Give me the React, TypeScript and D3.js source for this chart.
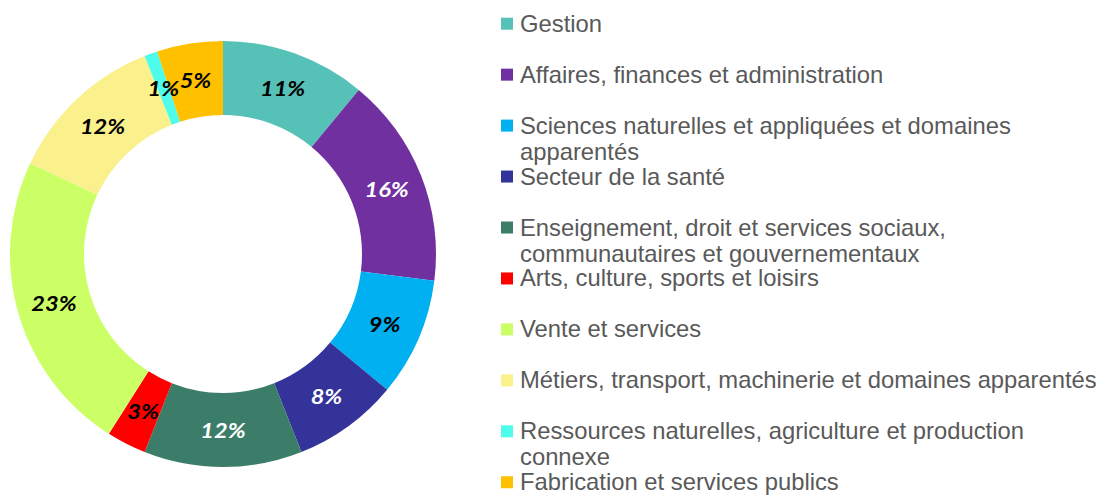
import React from "react";
import * as d3 from "d3";

const categories = [
  "Gestion",
  "Affaires, finances et administration",
  "Sciences naturelles et appliquées et domaines\napparentés",
  "Secteur de la santé",
  "Enseignement, droit et services sociaux,\ncommunautaires et gouvernementaux",
  "Arts, culture, sports et loisirs",
  "Vente et services",
  "Métiers, transport, machinerie et domaines apparentés",
  "Ressources naturelles, agriculture et production\nconnexe",
  "Fabrication et services publics",
];
const values = [11, 16, 9, 8, 12, 3, 23, 12, 1, 5];
const colors = [
  "#56C1B6",
  "#7030A0",
  "#00B0F0",
  "#333399",
  "#3B7D68",
  "#FF0000",
  "#CCFF66",
  "#FAF08C",
  "#4FFCEB",
  "#FFC000",
];
const labelColors = ["#000", "#fff", "#000", "#fff", "#fff", "#000", "#000", "#000", "#000", "#000"];

const W = 1102;
const H = 495;
const cx = 223;
const cy = 254;
const outerR = 213;
const innerR = 139;

export default function App() {
  const pie = d3.pie<number>().sort(null).value((d) => d);
  const arcs = pie(values);
  const arc = d3.arc<d3.PieArcDatum<number>>().innerRadius(innerR).outerRadius(outerR);

  const legendX = 501;
  const legendTop = 31.7;
  const legendStep = 50.95;
  const lineH = 26;

  return (
    <svg
      width={W}
      height={H}
      style={{ position: "absolute", left: 0, top: 0, background: "#fff" }}
    >
      <g transform={`translate(${cx},${cy})`}>
        {arcs.map((a, i) => (
          <path key={i} d={arc(a) || ""} fill={colors[i]} />
        ))}
        {arcs.map((a, i) => {
          const [x, y] = arc.centroid(a);
          return (
            <text
              key={"l" + i}
              transform={`translate(${x},${y}) scale(1.15,1)`}
              textAnchor="middle"
              dominantBaseline="central"
              fontFamily="Lato, 'Open Sans', sans-serif"
              fontWeight={700}
              fontStyle="italic"
              fontSize={20.5}
              fill={labelColors[i]}
            >
              {values[i]}%
            </text>
          );
        })}
      </g>
      <g>
        {categories.map((c, i) => {
          const by = legendTop + i * legendStep;
          const lines = c.split("\n");
          return (
            <g key={"lg" + i}>
              <rect x={legendX} y={by - 14} width={12} height={12} fill={colors[i]} />
              <text
                x={legendX + 19}
                y={by}
                fontFamily="'Liberation Sans', Arial, sans-serif"
                fontSize={23.8}
                fill="#595959"
              >
                {lines.map((ln, j) => (
                  <tspan key={j} x={legendX + 19} y={by + j * lineH}>
                    {ln}
                  </tspan>
                ))}
              </text>
            </g>
          );
        })}
      </g>
    </svg>
  );
}
